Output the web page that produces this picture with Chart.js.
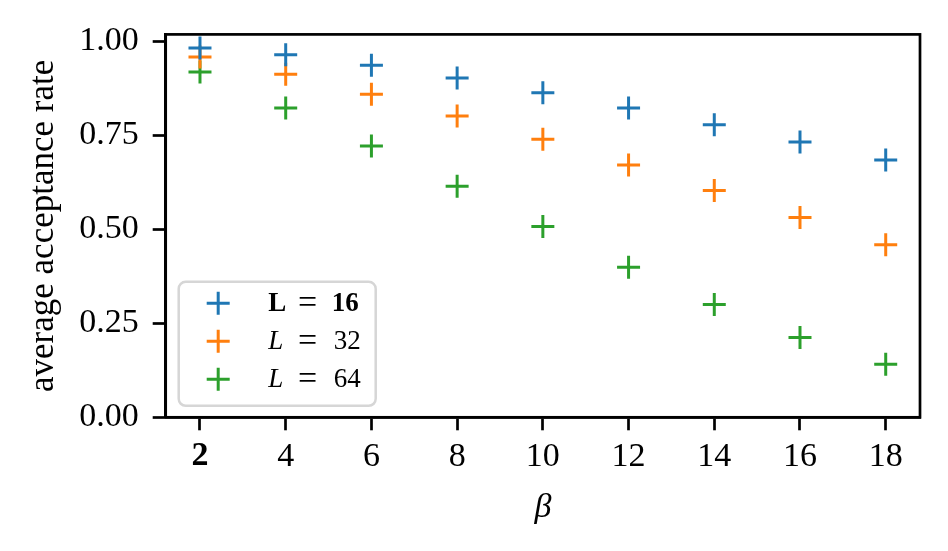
<!DOCTYPE html>
<html>
<head>
<meta charset="utf-8">
<script src="https://cdn.jsdelivr.net/npm/chart.js@4.4.1/dist/chart.umd.min.js"></script>
<style>
html,body{margin:0;padding:0;background:#fff;}
#wrap{width:948px;height:551px;position:relative;}
</style>
</head>
<body>
<div id="wrap"><canvas id="c" width="948" height="551"></canvas></div>
<script>
const betas = [2, 4, 6, 8, 10, 12, 14, 16, 18];
const rateL16 = [0.982, 0.964, 0.936, 0.902, 0.863, 0.822, 0.778, 0.732, 0.684];
const rateL32 = [0.958, 0.912, 0.859, 0.801, 0.739, 0.671, 0.603, 0.531, 0.459];
const rateL64 = [0.918, 0.822, 0.721, 0.614, 0.507, 0.399, 0.300, 0.212, 0.141];
const yTicks = [0, 0.25, 0.5, 0.75, 1.0];
const xTicks = [2, 4, 6, 8, 10, 12, 14, 16, 18];
const seriesNames = ['L16', 'L32', 'L64'];
const legendNumbers = ['16', '32', '64'];
const colors = ['#1f77b4', '#ff7f0e', '#2ca02c'];

const FONT = "'Liberation Serif', 'DejaVu Serif', serif";

function pts(arr){ return betas.map((b,i)=>({x:b, y:arr[i]})); }

const datasets = [rateL16, rateL32, rateL64].map((arr, i) => ({
  label: seriesNames[i],
  data: pts(arr),
  pointStyle: 'cross',
  pointRadius: 11.5,
  pointHoverRadius: 11.5,
  pointBorderWidth: 3,
  borderColor: colors[i],
  backgroundColor: colors[i],
  showLine: false
}));

const framePlugin = {
  id: 'frame',
  afterDraw(chart){
    const {ctx, chartArea:a} = chart;
    ctx.save();
    ctx.strokeStyle = '#000';
    ctx.lineWidth = 2.7;
    ctx.strokeRect(a.left, a.top, a.right - a.left, a.bottom - a.top);
    ctx.restore();
  }
};

function roundRect(ctx, x, y, w, h, r){
  ctx.beginPath();
  ctx.moveTo(x + r, y);
  ctx.lineTo(x + w - r, y);
  ctx.arcTo(x + w, y, x + w, y + r, r);
  ctx.lineTo(x + w, y + h - r);
  ctx.arcTo(x + w, y + h, x + w - r, y + h, r);
  ctx.lineTo(x + r, y + h);
  ctx.arcTo(x, y + h, x, y + h - r, r);
  ctx.lineTo(x, y + r);
  ctx.arcTo(x, y, x + r, y, r);
  ctx.closePath();
}

const legendPlugin = {
  id: 'mplLegend',
  afterDraw(chart){
    const {ctx, chartArea:a} = chart;
    const bx = a.left + 13, bw = 197, bh = 124;
    const by = a.bottom - 11.5 - bh;
    ctx.save();
    roundRect(ctx, bx, by, bw, bh, 7);
    ctx.fillStyle = 'rgba(255,255,255,0.8)';
    ctx.fill();
    ctx.strokeStyle = '#d6d6d6';
    ctx.lineWidth = 2.5;
    ctx.stroke();
    chart.data.datasets.forEach((ds, i) => {
      const cy = by + 21.5 + i * 38;
      const mx = bx + 39.5;
      ctx.strokeStyle = ds.borderColor;
      ctx.lineWidth = 3;
      ctx.beginPath();
      ctx.moveTo(mx - 11.5, cy); ctx.lineTo(mx + 11.5, cy);
      ctx.moveTo(mx, cy - 11.5); ctx.lineTo(mx, cy + 11.5);
      ctx.stroke();
      const bold = i === 0;
      ctx.fillStyle = '#000';
      ctx.textBaseline = 'middle';
      ctx.textAlign = 'left';
      const ty = cy + 1;
      ctx.font = (bold ? 'bold ' : 'italic ') + '27px ' + FONT;
      ctx.fillText('L', bx + 89.5, ty);
      ctx.font = '34px ' + FONT;
      ctx.textAlign = 'center';
      ctx.fillText('=', bx + 129, ty);
      ctx.textAlign = 'left';
      ctx.font = (bold ? 'bold ' : '') + '27px ' + FONT;
      ctx.fillText(legendNumbers[i], bx + (bold ? 153 : 155), ty);
    });
    ctx.restore();
  }
};

new Chart(document.getElementById('c'), {
  type: 'scatter',
  data: { datasets },
  plugins: [framePlugin, legendPlugin],
  options: {
    responsive: false,
    animation: false,
    events: [],
    layout: { padding: { left: 0, right: 28, top: 33.3, bottom: 0 } },
    plugins: { legend: { display: false }, tooltip: { enabled: false } },
    scales: {
      x: {
        type: 'linear',
        min: 1.2, max: 18.8,
        afterBuildTicks(scale){ scale.ticks = xTicks.map(v => ({value: v})); },
        afterFit(scale){ scale.height = 133.7; },
        border: { display: true, color: '#000', width: 2.7 },
        grid: { drawOnChartArea: false, drawTicks: true, tickLength: 13, tickWidth: 2.7, tickColor: '#000' },
        ticks: {
          color: '#000',
          padding: 6,
          maxRotation: 0,
          autoSkip: false,
          font: ctx => ({ family: FONT, size: 34, weight: (ctx.tick && ctx.tick.value === 2) ? 'bold' : 'normal' }),
          callback: v => String(v)
        },
        title: {
          display: true,
          text: 'β',
          color: '#000',
          font: { family: FONT, size: 34, style: 'italic' },
          padding: { top: 0, bottom: 23 }
        }
      },
      y: {
        type: 'linear',
        min: 0, max: 1.018,
        afterBuildTicks(scale){ scale.ticks = yTicks.map(v => ({value: v})); },
        afterFit(scale){ scale.width = 165.7; },
        border: { display: true, color: '#000', width: 2.7 },
        grid: { drawOnChartArea: false, drawTicks: true, tickLength: 13, tickWidth: 2.7, tickColor: '#000' },
        ticks: {
          color: '#000',
          padding: 14,
          autoSkip: false,
          font: { family: FONT, size: 34 },
          callback: v => v.toFixed(2)
        },
        title: {
          display: true,
          text: 'average acceptance rate',
          color: '#000',
          font: { family: FONT, size: 35 },
          padding: { top: 23, bottom: 0 }
        }
      }
    }
  }
});
</script>
</body>
</html>
